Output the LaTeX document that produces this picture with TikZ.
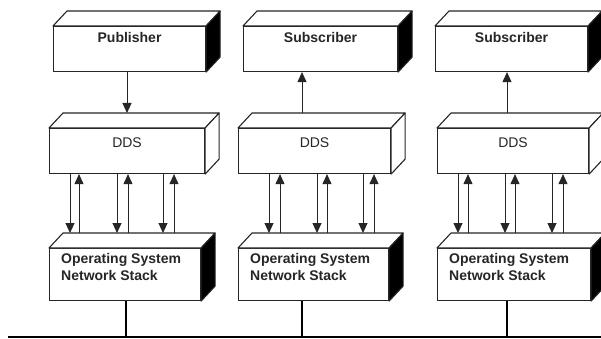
\documentclass[tikz,border=0pt]{standalone}
\usepackage{fontspec}
\setmainfont{Liberation Sans}
\usetikzlibrary{arrows.meta}
\tikzset{
  face/.style={draw=black!85, line width=1.1pt, fill=white, inner sep=0pt, anchor=north west},
  lbl/.style={font=\fontsize{14}{16}\selectfont\bfseries, text=black!85, inner sep=0pt},
  ddslbl/.style={font=\fontsize{14}{16}\selectfont, text=black!85, inner sep=0pt},
  edge3d/.style={draw=black!85, line width=1.1pt, line join=round},
  arr/.style={draw=black!85, line width=0.9pt, -{Triangle[width=9pt,length=10pt]}},
  bus/.style={draw=black, line width=2.8pt}
}
\newcommand\mycuboid[2]{%
  \draw[edge3d, fill=white] (#1.north west) -- ++(14,-15) -- ([shift={(14pt,15pt)}]#1.north east) -- (#1.north east) -- cycle;
  \draw[edge3d, fill=#2] (#1.north east) -- ++(14,-15) -- ([shift={(14pt,15pt)}]#1.south east) -- (#1.south east) -- cycle;
}
\begin{document}
\begin{tikzpicture}[x=1pt,y=-1pt]
\useasboundingbox (0,0) rectangle (601,339);
% column 1
\node[face, minimum width=152, minimum height=45, label={[lbl,anchor=base,yshift=-17pt]north:Publisher}] (pub) at (53,26) {};
\node[face, minimum width=155, minimum height=45, label={[ddslbl,anchor=base,yshift=-19pt]north:DDS}] (dds1) at (49,128) {};
\node[face, minimum width=151, minimum height=52,
  label={[lbl,anchor=base west,xshift=12pt,yshift=-15pt]north west:Operating System},
  label={[lbl,anchor=base west,xshift=12pt,yshift=-32pt]north west:Network Stack}] (os1) at (49,248) {};
% column 2
\node[face, minimum width=154, minimum height=45, label={[lbl,anchor=base,yshift=-17pt]north:Subscriber}] (sub2) at (243,26) {};
\node[face, minimum width=152, minimum height=45, label={[ddslbl,anchor=base,yshift=-19pt]north:DDS}] (dds2) at (238,128) {};
\node[face, minimum width=150, minimum height=52,
  label={[lbl,anchor=base west,xshift=12pt,yshift=-15pt]north west:Operating System},
  label={[lbl,anchor=base west,xshift=12pt,yshift=-32pt]north west:Network Stack}] (os2) at (238,248) {};
% column 3
\node[face, minimum width=152, minimum height=45, label={[lbl,anchor=base,yshift=-17pt]north:Subscriber}] (sub3) at (435,26) {};
\node[face, minimum width=151, minimum height=45, label={[ddslbl,anchor=base,yshift=-19pt]north:DDS}] (dds3) at (437,128) {};
\node[face, minimum width=153, minimum height=52,
  label={[lbl,anchor=base west,xshift=12pt,yshift=-15pt]north west:Operating System},
  label={[lbl,anchor=base west,xshift=12pt,yshift=-32pt]north west:Network Stack}] (os3) at (437,248) {};
% 3d faces
\mycuboid{pub}{black}
\mycuboid{dds1}{white}
\mycuboid{os1}{black}
\mycuboid{sub2}{black}
\mycuboid{dds2}{white}
\mycuboid{os2}{black}
\mycuboid{sub3}{black}
\mycuboid{dds3}{white}
\mycuboid{os3}{black}
% application arrows
\draw[arr] ([xshift=74pt]pub.south west) -- ([xshift=78pt,yshift=15pt]dds1.north west);
\draw[arr] ([xshift=64pt,yshift=15pt]dds2.north west) -- ([xshift=59pt]sub2.south west);
\draw[arr] ([xshift=70pt,yshift=15pt]dds3.north west) -- ([xshift=72pt]sub3.south west);
% DDS <-> OS arrows
\foreach \d/\u in {21/30,68/79,114/125}{
  \draw[arr] ([xshift=\d pt]dds1.south west) -- ([xshift=\d pt,yshift=15pt]os1.north west);
  \draw[arr] ([xshift=\u pt,yshift=15pt]os1.north west) -- ([xshift=\u pt]dds1.south west);
}
\foreach \d/\u in {31/42,79/89,125/136}{
  \draw[arr] ([xshift=\d pt]dds2.south west) -- ([xshift=\d pt,yshift=15pt]os2.north west);
  \draw[arr] ([xshift=\u pt,yshift=15pt]os2.north west) -- ([xshift=\u pt]dds2.south west);
}
\foreach \d/\u in {21/31,68/78,115/126}{
  \draw[arr] ([xshift=\d pt]dds3.south west) -- ([xshift=\d pt,yshift=15pt]os3.north west);
  \draw[arr] ([xshift=\u pt,yshift=15pt]os3.north west) -- ([xshift=\u pt]dds3.south west);
}
% network bus
\coordinate (busL) at (8,337);
\coordinate (busR) at (601,337);
\draw[bus] (busL) -- (busR);
\coordinate (t1) at ([xshift=77pt]os1.south west);
\coordinate (t2) at ([xshift=64pt]os2.south west);
\coordinate (t3) at ([xshift=70pt]os3.south west);
\draw[bus] (t1) -- (t1 |- busL);
\draw[bus] (t2) -- (t2 |- busL);
\draw[bus] (t3) -- (t3 |- busL);
\end{tikzpicture}
\end{document}
